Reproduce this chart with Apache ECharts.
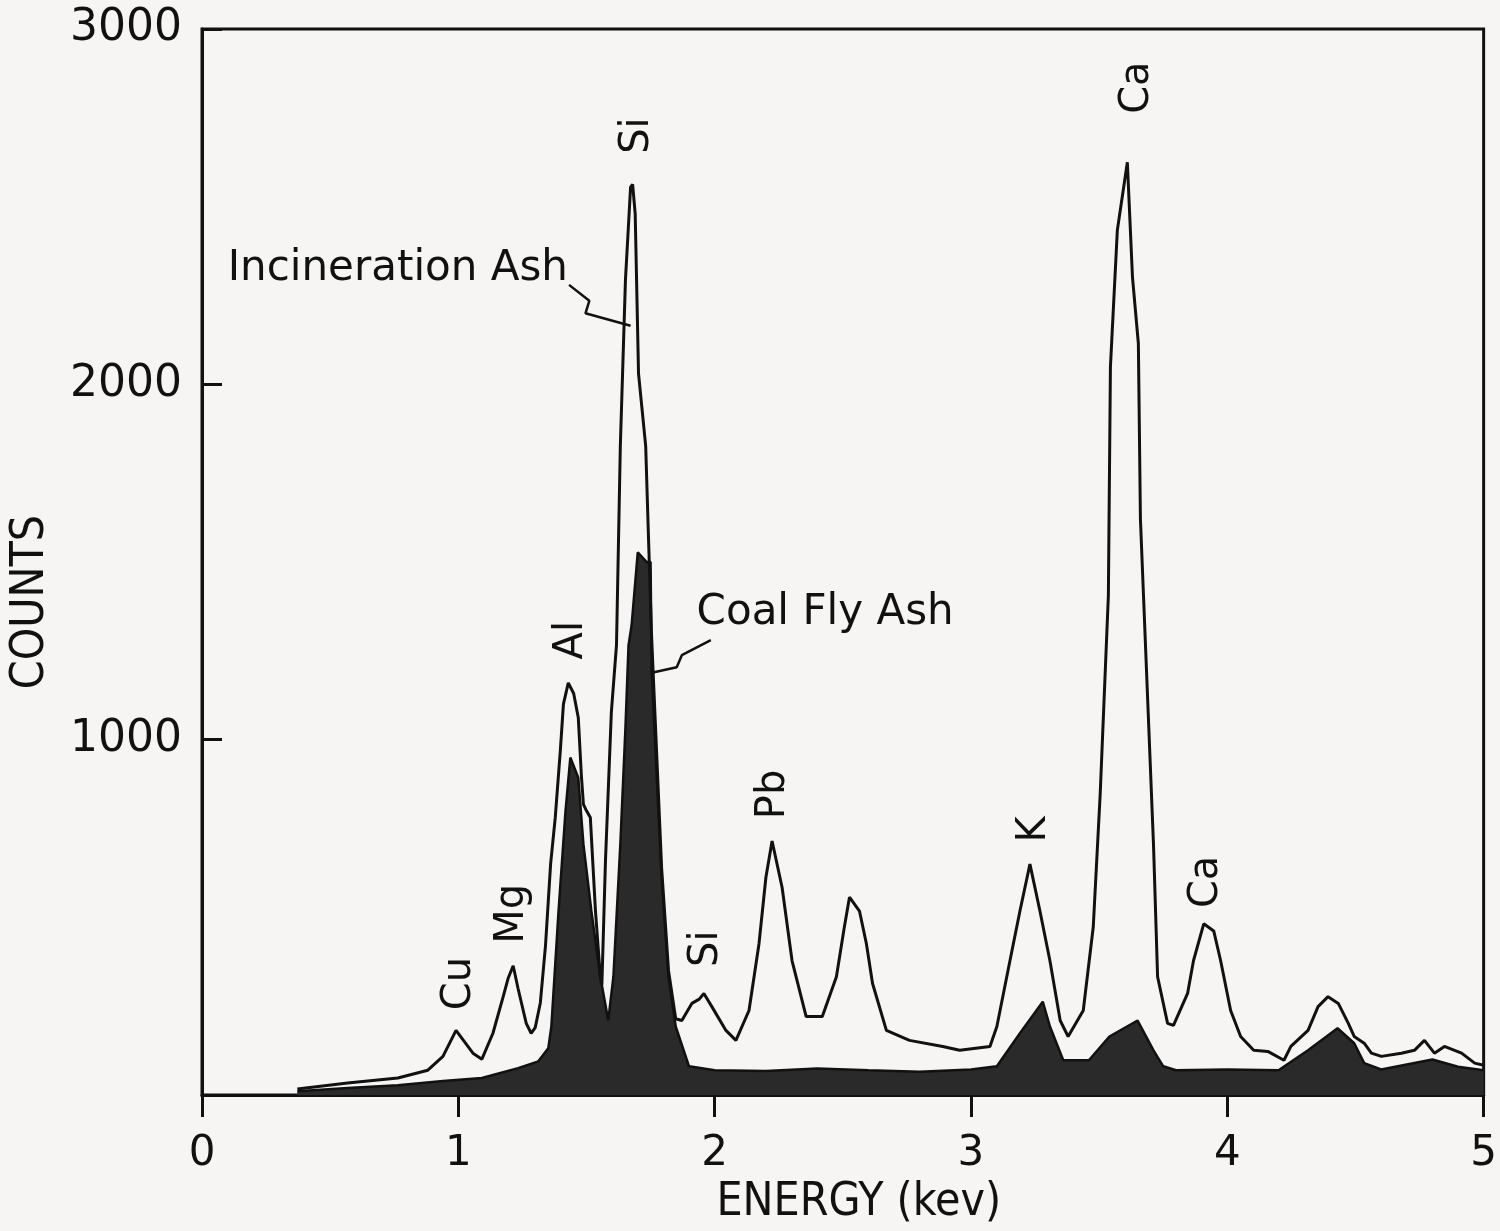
<!DOCTYPE html>
<html>
<head>
	<meta charset="utf-8">
	<title>EDS spectra</title>
	<script src="https://cdn.jsdelivr.net/npm/echarts@6/dist/echarts.min.js"></script>
	<style>
		body { margin: 0; background: #f6f5f3; }
	</style>
</head>
<body>
	<div id="main" style="width: 1500px; height: 1231px;"></div>
	<script type="text/javascript">
		// incineration ash spectrum (outline)
		var ashEnergy = [0.372, 0.568, 0.764, 0.881, 0.940, 0.991, 1.057, 1.092, 1.135, 1.175, 1.194, 1.214, 1.233, 1.265, 1.284,
			1.300, 1.320, 1.340, 1.360, 1.378, 1.398, 1.410, 1.429, 1.450, 1.468, 1.480, 1.488, 1.500, 1.515, 1.535, 1.554, 1.560,
			1.574, 1.597, 1.617, 1.632, 1.652, 1.672, 1.680, 1.690, 1.703, 1.731, 1.742, 1.754, 1.793, 1.820, 1.848, 1.872, 1.911,
			1.940, 1.958, 1.989, 2.044, 2.083, 2.134, 2.173, 2.200, 2.224, 2.263, 2.302, 2.357, 2.420, 2.475, 2.506, 2.526, 2.565,
			2.592, 2.616, 2.670, 2.760, 2.890, 2.956, 3.074, 3.101, 3.152, 3.191, 3.230, 3.269, 3.308, 3.348, 3.379, 3.438, 3.477,
			3.504, 3.536, 3.544, 3.571, 3.610, 3.630, 3.653, 3.661, 3.673, 3.712, 3.728, 3.767, 3.790, 3.845, 3.868, 3.908, 3.947,
			3.974, 4.013, 4.052, 4.103, 4.158, 4.221, 4.248, 4.315, 4.354, 4.393, 4.433, 4.472, 4.495, 4.534, 4.562, 4.601, 4.679,
			4.730, 4.769, 4.808, 4.847, 4.914, 4.965, 5.000];
		var ashCounts = [17, 34, 48, 70, 109, 182, 118, 101, 174, 277, 328, 364, 300, 202, 174,
			190, 260, 420, 650, 780, 970, 1100, 1160, 1130, 1062, 900, 818, 800, 781, 518, 333, 310,
			658, 1078, 1266, 1826, 2294, 2555, 2563, 2480, 2030, 1826, 1566, 1290, 640, 350, 215, 210, 258,
			270, 286, 249, 182, 154, 238, 426, 613, 715, 585, 378, 221, 221, 333, 473, 557, 518,
			426, 314, 182, 154, 137, 126, 137, 193, 378, 518, 650, 518, 378, 210, 165, 238, 473,
			846, 1406, 2050, 2434, 2625, 2302, 2115, 1622, 1406, 706, 333, 202, 196, 286, 378, 482, 462,
			378, 238, 165, 126, 123, 98, 137, 182, 249, 277, 258, 202, 165, 146, 118, 109, 118,
			126, 154, 118, 137, 118, 90, 84];

		// coal fly ash spectrum (filled)
		var coalEnergy = [0.372, 0.568, 0.764, 0.940, 1.092, 1.233, 1.312, 1.351, 1.363, 1.391, 1.418, 1.437, 1.468, 1.488,
			1.519, 1.554, 1.585, 1.605, 1.632, 1.652, 1.664, 1.676, 1.700, 1.735, 1.750, 1.754, 1.793, 1.820, 1.848, 1.900,
			2.000, 2.200, 2.400, 2.600, 2.800, 3.000, 3.101, 3.191, 3.280, 3.308, 3.360, 3.460, 3.540, 3.650, 3.712, 3.750,
			3.800, 4.000, 4.200, 4.315, 4.430, 4.495, 4.534, 4.600, 4.800, 4.900, 5.000];
		var coalCounts = [11, 20, 28, 40, 48, 76, 95, 132, 193, 518, 798, 950, 893, 706,
			518, 333, 210, 333, 706, 1034, 1266, 1322, 1527, 1500, 1500, 1200, 613, 333, 193, 81,
			70, 68, 75, 70, 66, 72, 81, 174, 263, 193, 98, 98, 165, 210, 126, 81,
			70, 72, 70, 126, 188, 146, 90, 72, 100, 80, 70];

		// element labels
		var peakNames = ['Cu', 'Mg', 'Al', 'Si', 'Si', 'Pb', 'K', 'Ca', 'Ca'];
		var peakLabelEnergy = [1.006, 1.21, 1.44, 1.70, 1.97, 2.23, 3.25, 3.65, 3.92];
		var peakLabelCounts = [314, 510, 1280, 2700, 412, 846, 748, 2835, 600];

		// sample captions and their leader lines
		var captions = ['Incineration Ash', 'Coal Fly Ash'];
		var captionEnergy = [0.764, 2.431];
		var captionCounts = [2325, 1356];
		var ashLeader = [[1.432, 2280], [1.511, 2235], [1.496, 2200], [1.672, 2165]];
		var coalLeader = [[1.985, 1280], [1.872, 1238], [1.852, 1204], [1.750, 1188]];

		var xTicks = ['0', '1', '2', '3', '4', '5'];

		function pairs(xs, ys) {
			return xs.map(function (x, i) { return [x, ys[i]]; });
		}

		var font = 'DejaVu Sans';
		var ink = '#111';
		var myChart = echarts.init(document.getElementById('main'));
		var option = {
			backgroundColor: '#f6f5f3',
			animation: false,
			grid: {
				left: 202, right: 15, top: 29, bottom: 125,
				show: true, borderColor: ink, borderWidth: 3
			},
			xAxis: {
				type: 'value',
				min: 0, max: 5, interval: 1,
				name: 'ENERGY (kev)',
				nameLocation: 'middle',
				nameGap: 84,
				nameTextStyle: { fontFamily: 'DejaVu Sans Condensed, ' + font, fontSize: 46, color: ink, padding: [0, 0, 0, 32] },
				axisLine: { lineStyle: { color: ink, width: 3 } },
				axisTick: { inside: false, length: 22, lineStyle: { color: ink, width: 3 } },
				axisLabel: {
					margin: 38, fontFamily: font, fontSize: 42, color: ink,
					formatter: function (v) { return xTicks[Math.round(v)]; }
				},
				splitLine: { show: false }
			},
			yAxis: {
				type: 'value',
				min: 0, max: 3000, interval: 1000,
				name: 'COUNTS',
				nameLocation: 'middle',
				nameGap: 148,
				nameTextStyle: { fontFamily: 'DejaVu Sans Condensed, ' + font, fontSize: 46, color: ink, padding: [0, 80, 0, 0] },
				axisLine: { lineStyle: { color: ink, width: 3 } },
				axisTick: { inside: true, length: 20, lineStyle: { color: ink, width: 3 } },
				axisLabel: {
					margin: 20, fontFamily: font, fontSize: 44, color: ink,
					formatter: function (v) { return v === 0 ? '' : String(v); }
				},
				splitLine: { show: false }
			},
			series: [
				{
					name: 'Coal Fly Ash',
					type: 'line',
					data: pairs(coalEnergy, coalCounts),
					symbol: 'none',
					lineStyle: { color: ink, width: 2.5 },
					areaStyle: { color: '#2a2a2a', opacity: 1 },
					z: 2
				},
				{
					name: 'Incineration Ash',
					type: 'line',
					data: pairs(ashEnergy, ashCounts),
					symbol: 'none',
					lineStyle: { color: ink, width: 3 },
					z: 3
				},
				{
					name: 'leaders',
					type: 'line',
					data: ashLeader,
					symbol: 'none',
					lineStyle: { color: ink, width: 2.5 },
					z: 4
				},
				{
					name: 'leaders2',
					type: 'line',
					data: coalLeader,
					symbol: 'none',
					lineStyle: { color: ink, width: 2.5 },
					z: 4
				},
				{
					name: 'peaks',
					type: 'scatter',
					symbolSize: 0,
					itemStyle: { opacity: 1 },
					data: peakNames.map(function (n, i) {
						return { name: n, value: [peakLabelEnergy[i], peakLabelCounts[i]] };
					}),
					label: {
						show: true, position: 'inside', rotate: 90, opacity: 1,
						formatter: '{b}', fontFamily: font, fontSize: 40, color: ink
					},
					z: 5
				},
				{
					name: 'captions',
					type: 'scatter',
					symbolSize: 0,
					itemStyle: { opacity: 1 },
					data: captions.map(function (n, i) {
						return { name: n, value: [captionEnergy[i], captionCounts[i]] };
					}),
					label: {
						show: true, position: 'inside', opacity: 1,
						formatter: '{b}', fontFamily: font, fontSize: 42, color: ink
					},
					z: 5
				}
			]
		};
		myChart.setOption(option);
	</script>
</body>
</html>
